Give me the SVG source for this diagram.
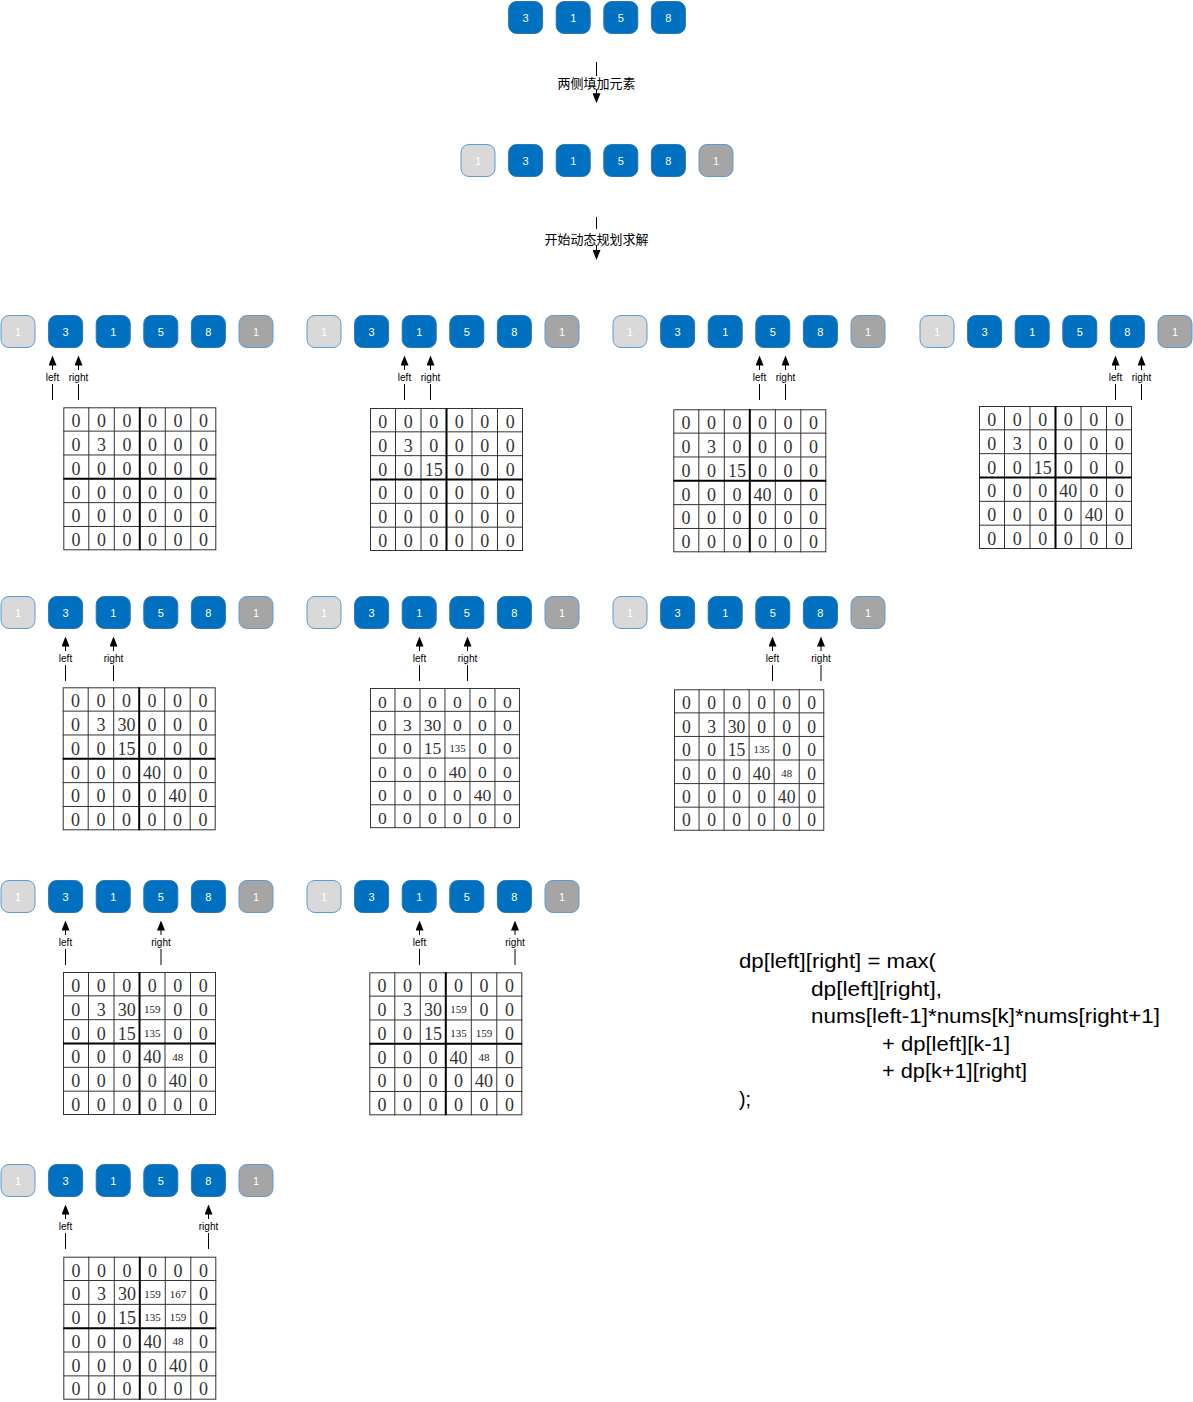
<svg xmlns="http://www.w3.org/2000/svg" xmlns:xlink="http://www.w3.org/1999/xlink" width="1193" height="1402" viewBox="0 0 1193 1402">
<style>
.nb{fill:#0070C0;stroke:#2E75B6;stroke-width:1}
.nl{fill:#D9D9D9;stroke:#5B9BD5;stroke-width:1}
.nd{fill:#A5A5A5;stroke:#5B9BD5;stroke-width:1}
.nt{font-family:"Liberation Sans",Arial,sans-serif;font-size:11px;fill:#fff;text-anchor:middle}
.ln{stroke:#000;stroke-width:1;fill:none}
.lb{font-family:"Liberation Sans",Arial,sans-serif;font-size:10px;fill:#000;text-anchor:middle}
.cj{font-family:"Noto Sans CJK SC","Liberation Sans",sans-serif;font-size:13px;fill:#000;text-anchor:middle}
.v{font-family:"Liberation Serif","Times New Roman",serif;font-size:18px;fill:#333;text-anchor:middle}
.s{font-size:11px;fill:#222}
.f{font-family:"Liberation Sans",Arial,sans-serif;font-size:20px;fill:#000}
</style>
<defs>
<marker id="ah" viewBox="0 0 10 8" refX="1" refY="4" markerWidth="10" markerHeight="8" markerUnits="userSpaceOnUse" orient="auto"><path d="M0,0 L10,4 L0,8 z" fill="#000"/></marker>
<g id="grid">
<rect x="0.5" y="0.5" width="152" height="142" fill="#fff" stroke="#333"/>
<path d="M25.5 0V143M51 0V143M102 0V143M127.5 0V143M0 23.83H153M0 47.67H153M0 95.33H153M0 119.17H153" stroke="#333" fill="none"/>
<path d="M76.5 0V143M0 71.5H153" stroke="#000" stroke-width="2" fill="none"/>
</g>
<g id="grid2">
<rect x="0.5" y="0.5" width="152" height="142" fill="#fff" stroke="#333"/>
<path d="M25.5 0V143M51 0V143M76.5 0V143M102 0V143M127.5 0V143M0 23.83H153M0 47.67H153M0 71.5H153M0 95.33H153M0 119.17H153" stroke="#333" fill="none"/>
</g>
</defs>
<rect width="1193" height="1402" fill="#fff"/>

<!-- top row -->
<g id="top" transform="translate(460,1)">
<g id="top-3"><rect class="nb" x="48.6" y="0.5" width="34" height="32" rx="8"/><text class="nt" x="65.6" y="20.5">3</text></g>
<g id="top-1"><rect class="nb" x="96.2" y="0.5" width="34" height="32" rx="8"/><text class="nt" x="113.2" y="20.5">1</text></g>
<g id="top-5"><rect class="nb" x="143.8" y="0.5" width="34" height="32" rx="8"/><text class="nt" x="160.8" y="20.5">5</text></g>
<g id="top-8"><rect class="nb" x="191.4" y="0.5" width="34" height="32" rx="8"/><text class="nt" x="208.4" y="20.5">8</text></g>
</g>
<g id="padded" transform="translate(460,144)">
<g id="pad-l"><rect class="nl" x="1" y="0.5" width="34" height="32" rx="8"/><text class="nt" x="18" y="20.5">1</text></g>
<g id="pad-3"><rect class="nb" x="48.6" y="0.5" width="34" height="32" rx="8"/><text class="nt" x="65.6" y="20.5">3</text></g>
<g id="pad-1"><rect class="nb" x="96.2" y="0.5" width="34" height="32" rx="8"/><text class="nt" x="113.2" y="20.5">1</text></g>
<g id="pad-5"><rect class="nb" x="143.8" y="0.5" width="34" height="32" rx="8"/><text class="nt" x="160.8" y="20.5">5</text></g>
<g id="pad-8"><rect class="nb" x="191.4" y="0.5" width="34" height="32" rx="8"/><text class="nt" x="208.4" y="20.5">8</text></g>
<g id="pad-r"><rect class="nd" x="239" y="0.5" width="34" height="32" rx="8"/><text class="nt" x="256" y="20.5">1</text></g>
</g>

<!-- panels: node rows -->
<g id="p1" transform="translate(0,315)">
<g id="p1-n0"><rect class="nl" x="1" y="0.5" width="34" height="32" rx="8"/><text class="nt" x="18" y="20.5">1</text></g>
<g id="p1-n1"><rect class="nb" x="48.6" y="0.5" width="34" height="32" rx="8"/><text class="nt" x="65.6" y="20.5">3</text></g>
<g id="p1-n2"><rect class="nb" x="96.2" y="0.5" width="34" height="32" rx="8"/><text class="nt" x="113.2" y="20.5">1</text></g>
<g id="p1-n3"><rect class="nb" x="143.8" y="0.5" width="34" height="32" rx="8"/><text class="nt" x="160.8" y="20.5">5</text></g>
<g id="p1-n4"><rect class="nb" x="191.4" y="0.5" width="34" height="32" rx="8"/><text class="nt" x="208.4" y="20.5">8</text></g>
<g id="p1-n5"><rect class="nd" x="239" y="0.5" width="34" height="32" rx="8"/><text class="nt" x="256" y="20.5">1</text></g>
</g>
<g id="p2" transform="translate(306,315)">
<g id="p2-n0"><rect class="nl" x="1" y="0.5" width="34" height="32" rx="8"/><text class="nt" x="18" y="20.5">1</text></g>
<g id="p2-n1"><rect class="nb" x="48.6" y="0.5" width="34" height="32" rx="8"/><text class="nt" x="65.6" y="20.5">3</text></g>
<g id="p2-n2"><rect class="nb" x="96.2" y="0.5" width="34" height="32" rx="8"/><text class="nt" x="113.2" y="20.5">1</text></g>
<g id="p2-n3"><rect class="nb" x="143.8" y="0.5" width="34" height="32" rx="8"/><text class="nt" x="160.8" y="20.5">5</text></g>
<g id="p2-n4"><rect class="nb" x="191.4" y="0.5" width="34" height="32" rx="8"/><text class="nt" x="208.4" y="20.5">8</text></g>
<g id="p2-n5"><rect class="nd" x="239" y="0.5" width="34" height="32" rx="8"/><text class="nt" x="256" y="20.5">1</text></g>
</g>
<g id="p3" transform="translate(612,315)">
<g id="p3-n0"><rect class="nl" x="1" y="0.5" width="34" height="32" rx="8"/><text class="nt" x="18" y="20.5">1</text></g>
<g id="p3-n1"><rect class="nb" x="48.6" y="0.5" width="34" height="32" rx="8"/><text class="nt" x="65.6" y="20.5">3</text></g>
<g id="p3-n2"><rect class="nb" x="96.2" y="0.5" width="34" height="32" rx="8"/><text class="nt" x="113.2" y="20.5">1</text></g>
<g id="p3-n3"><rect class="nb" x="143.8" y="0.5" width="34" height="32" rx="8"/><text class="nt" x="160.8" y="20.5">5</text></g>
<g id="p3-n4"><rect class="nb" x="191.4" y="0.5" width="34" height="32" rx="8"/><text class="nt" x="208.4" y="20.5">8</text></g>
<g id="p3-n5"><rect class="nd" x="239" y="0.5" width="34" height="32" rx="8"/><text class="nt" x="256" y="20.5">1</text></g>
</g>
<g id="p4" transform="translate(919,315)">
<g id="p4-n0"><rect class="nl" x="1" y="0.5" width="34" height="32" rx="8"/><text class="nt" x="18" y="20.5">1</text></g>
<g id="p4-n1"><rect class="nb" x="48.6" y="0.5" width="34" height="32" rx="8"/><text class="nt" x="65.6" y="20.5">3</text></g>
<g id="p4-n2"><rect class="nb" x="96.2" y="0.5" width="34" height="32" rx="8"/><text class="nt" x="113.2" y="20.5">1</text></g>
<g id="p4-n3"><rect class="nb" x="143.8" y="0.5" width="34" height="32" rx="8"/><text class="nt" x="160.8" y="20.5">5</text></g>
<g id="p4-n4"><rect class="nb" x="191.4" y="0.5" width="34" height="32" rx="8"/><text class="nt" x="208.4" y="20.5">8</text></g>
<g id="p4-n5"><rect class="nd" x="239" y="0.5" width="34" height="32" rx="8"/><text class="nt" x="256" y="20.5">1</text></g>
</g>
<g id="p5" transform="translate(0,596)">
<g id="p5-n0"><rect class="nl" x="1" y="0.5" width="34" height="32" rx="8"/><text class="nt" x="18" y="20.5">1</text></g>
<g id="p5-n1"><rect class="nb" x="48.6" y="0.5" width="34" height="32" rx="8"/><text class="nt" x="65.6" y="20.5">3</text></g>
<g id="p5-n2"><rect class="nb" x="96.2" y="0.5" width="34" height="32" rx="8"/><text class="nt" x="113.2" y="20.5">1</text></g>
<g id="p5-n3"><rect class="nb" x="143.8" y="0.5" width="34" height="32" rx="8"/><text class="nt" x="160.8" y="20.5">5</text></g>
<g id="p5-n4"><rect class="nb" x="191.4" y="0.5" width="34" height="32" rx="8"/><text class="nt" x="208.4" y="20.5">8</text></g>
<g id="p5-n5"><rect class="nd" x="239" y="0.5" width="34" height="32" rx="8"/><text class="nt" x="256" y="20.5">1</text></g>
</g>
<g id="p6" transform="translate(306,596)">
<g id="p6-n0"><rect class="nl" x="1" y="0.5" width="34" height="32" rx="8"/><text class="nt" x="18" y="20.5">1</text></g>
<g id="p6-n1"><rect class="nb" x="48.6" y="0.5" width="34" height="32" rx="8"/><text class="nt" x="65.6" y="20.5">3</text></g>
<g id="p6-n2"><rect class="nb" x="96.2" y="0.5" width="34" height="32" rx="8"/><text class="nt" x="113.2" y="20.5">1</text></g>
<g id="p6-n3"><rect class="nb" x="143.8" y="0.5" width="34" height="32" rx="8"/><text class="nt" x="160.8" y="20.5">5</text></g>
<g id="p6-n4"><rect class="nb" x="191.4" y="0.5" width="34" height="32" rx="8"/><text class="nt" x="208.4" y="20.5">8</text></g>
<g id="p6-n5"><rect class="nd" x="239" y="0.5" width="34" height="32" rx="8"/><text class="nt" x="256" y="20.5">1</text></g>
</g>
<g id="p7" transform="translate(612,596)">
<g id="p7-n0"><rect class="nl" x="1" y="0.5" width="34" height="32" rx="8"/><text class="nt" x="18" y="20.5">1</text></g>
<g id="p7-n1"><rect class="nb" x="48.6" y="0.5" width="34" height="32" rx="8"/><text class="nt" x="65.6" y="20.5">3</text></g>
<g id="p7-n2"><rect class="nb" x="96.2" y="0.5" width="34" height="32" rx="8"/><text class="nt" x="113.2" y="20.5">1</text></g>
<g id="p7-n3"><rect class="nb" x="143.8" y="0.5" width="34" height="32" rx="8"/><text class="nt" x="160.8" y="20.5">5</text></g>
<g id="p7-n4"><rect class="nb" x="191.4" y="0.5" width="34" height="32" rx="8"/><text class="nt" x="208.4" y="20.5">8</text></g>
<g id="p7-n5"><rect class="nd" x="239" y="0.5" width="34" height="32" rx="8"/><text class="nt" x="256" y="20.5">1</text></g>
</g>
<g id="p8" transform="translate(0,880)">
<g id="p8-n0"><rect class="nl" x="1" y="0.5" width="34" height="32" rx="8"/><text class="nt" x="18" y="20.5">1</text></g>
<g id="p8-n1"><rect class="nb" x="48.6" y="0.5" width="34" height="32" rx="8"/><text class="nt" x="65.6" y="20.5">3</text></g>
<g id="p8-n2"><rect class="nb" x="96.2" y="0.5" width="34" height="32" rx="8"/><text class="nt" x="113.2" y="20.5">1</text></g>
<g id="p8-n3"><rect class="nb" x="143.8" y="0.5" width="34" height="32" rx="8"/><text class="nt" x="160.8" y="20.5">5</text></g>
<g id="p8-n4"><rect class="nb" x="191.4" y="0.5" width="34" height="32" rx="8"/><text class="nt" x="208.4" y="20.5">8</text></g>
<g id="p8-n5"><rect class="nd" x="239" y="0.5" width="34" height="32" rx="8"/><text class="nt" x="256" y="20.5">1</text></g>
</g>
<g id="p9" transform="translate(306,880)">
<g id="p9-n0"><rect class="nl" x="1" y="0.5" width="34" height="32" rx="8"/><text class="nt" x="18" y="20.5">1</text></g>
<g id="p9-n1"><rect class="nb" x="48.6" y="0.5" width="34" height="32" rx="8"/><text class="nt" x="65.6" y="20.5">3</text></g>
<g id="p9-n2"><rect class="nb" x="96.2" y="0.5" width="34" height="32" rx="8"/><text class="nt" x="113.2" y="20.5">1</text></g>
<g id="p9-n3"><rect class="nb" x="143.8" y="0.5" width="34" height="32" rx="8"/><text class="nt" x="160.8" y="20.5">5</text></g>
<g id="p9-n4"><rect class="nb" x="191.4" y="0.5" width="34" height="32" rx="8"/><text class="nt" x="208.4" y="20.5">8</text></g>
<g id="p9-n5"><rect class="nd" x="239" y="0.5" width="34" height="32" rx="8"/><text class="nt" x="256" y="20.5">1</text></g>
</g>
<g id="p10" transform="translate(0,1164)">
<g id="p10-n0"><rect class="nl" x="1" y="0.5" width="34" height="32" rx="8"/><text class="nt" x="18" y="20.5">1</text></g>
<g id="p10-n1"><rect class="nb" x="48.6" y="0.5" width="34" height="32" rx="8"/><text class="nt" x="65.6" y="20.5">3</text></g>
<g id="p10-n2"><rect class="nb" x="96.2" y="0.5" width="34" height="32" rx="8"/><text class="nt" x="113.2" y="20.5">1</text></g>
<g id="p10-n3"><rect class="nb" x="143.8" y="0.5" width="34" height="32" rx="8"/><text class="nt" x="160.8" y="20.5">5</text></g>
<g id="p10-n4"><rect class="nb" x="191.4" y="0.5" width="34" height="32" rx="8"/><text class="nt" x="208.4" y="20.5">8</text></g>
<g id="p10-n5"><rect class="nd" x="239" y="0.5" width="34" height="32" rx="8"/><text class="nt" x="256" y="20.5">1</text></g>
</g>

<!-- dp tables -->
<g id="t1" transform="translate(63.3,407.3)">
<use href="#grid"/>
<text class="v" y="20"><tspan x="12.75">0</tspan><tspan x="38.25">0</tspan><tspan x="63.75">0</tspan><tspan x="89.25">0</tspan><tspan x="114.75">0</tspan><tspan x="140.25">0</tspan></text>
<text class="v" y="43.8"><tspan x="12.75">0</tspan><tspan x="38.25">3</tspan><tspan x="63.75">0</tspan><tspan x="89.25">0</tspan><tspan x="114.75">0</tspan><tspan x="140.25">0</tspan></text>
<text class="v" y="67.6"><tspan x="12.75">0</tspan><tspan x="38.25">0</tspan><tspan x="63.75">0</tspan><tspan x="89.25">0</tspan><tspan x="114.75">0</tspan><tspan x="140.25">0</tspan></text>
<text class="v" y="91.4"><tspan x="12.75">0</tspan><tspan x="38.25">0</tspan><tspan x="63.75">0</tspan><tspan x="89.25">0</tspan><tspan x="114.75">0</tspan><tspan x="140.25">0</tspan></text>
<text class="v" y="115.2"><tspan x="12.75">0</tspan><tspan x="38.25">0</tspan><tspan x="63.75">0</tspan><tspan x="89.25">0</tspan><tspan x="114.75">0</tspan><tspan x="140.25">0</tspan></text>
<text class="v" y="138.5"><tspan x="12.75">0</tspan><tspan x="38.25">0</tspan><tspan x="63.75">0</tspan><tspan x="89.25">0</tspan><tspan x="114.75">0</tspan><tspan x="140.25">0</tspan></text>
</g>
<g id="t2" transform="translate(370,408)">
<use href="#grid"/>
<text class="v" y="20"><tspan x="12.75">0</tspan><tspan x="38.25">0</tspan><tspan x="63.75">0</tspan><tspan x="89.25">0</tspan><tspan x="114.75">0</tspan><tspan x="140.25">0</tspan></text>
<text class="v" y="43.8"><tspan x="12.75">0</tspan><tspan x="38.25">3</tspan><tspan x="63.75">0</tspan><tspan x="89.25">0</tspan><tspan x="114.75">0</tspan><tspan x="140.25">0</tspan></text>
<text class="v" y="67.6"><tspan x="12.75">0</tspan><tspan x="38.25">0</tspan><tspan x="63.75">15</tspan><tspan x="89.25">0</tspan><tspan x="114.75">0</tspan><tspan x="140.25">0</tspan></text>
<text class="v" y="91.4"><tspan x="12.75">0</tspan><tspan x="38.25">0</tspan><tspan x="63.75">0</tspan><tspan x="89.25">0</tspan><tspan x="114.75">0</tspan><tspan x="140.25">0</tspan></text>
<text class="v" y="115.2"><tspan x="12.75">0</tspan><tspan x="38.25">0</tspan><tspan x="63.75">0</tspan><tspan x="89.25">0</tspan><tspan x="114.75">0</tspan><tspan x="140.25">0</tspan></text>
<text class="v" y="138.5"><tspan x="12.75">0</tspan><tspan x="38.25">0</tspan><tspan x="63.75">0</tspan><tspan x="89.25">0</tspan><tspan x="114.75">0</tspan><tspan x="140.25">0</tspan></text>
</g>
<g id="t3" transform="translate(673.3,409.3)">
<use href="#grid"/>
<text class="v" y="20"><tspan x="12.75">0</tspan><tspan x="38.25">0</tspan><tspan x="63.75">0</tspan><tspan x="89.25">0</tspan><tspan x="114.75">0</tspan><tspan x="140.25">0</tspan></text>
<text class="v" y="43.8"><tspan x="12.75">0</tspan><tspan x="38.25">3</tspan><tspan x="63.75">0</tspan><tspan x="89.25">0</tspan><tspan x="114.75">0</tspan><tspan x="140.25">0</tspan></text>
<text class="v" y="67.6"><tspan x="12.75">0</tspan><tspan x="38.25">0</tspan><tspan x="63.75">15</tspan><tspan x="89.25">0</tspan><tspan x="114.75">0</tspan><tspan x="140.25">0</tspan></text>
<text class="v" y="91.4"><tspan x="12.75">0</tspan><tspan x="38.25">0</tspan><tspan x="63.75">0</tspan><tspan x="89.25">40</tspan><tspan x="114.75">0</tspan><tspan x="140.25">0</tspan></text>
<text class="v" y="115.2"><tspan x="12.75">0</tspan><tspan x="38.25">0</tspan><tspan x="63.75">0</tspan><tspan x="89.25">0</tspan><tspan x="114.75">0</tspan><tspan x="140.25">0</tspan></text>
<text class="v" y="138.5"><tspan x="12.75">0</tspan><tspan x="38.25">0</tspan><tspan x="63.75">0</tspan><tspan x="89.25">0</tspan><tspan x="114.75">0</tspan><tspan x="140.25">0</tspan></text>
</g>
<g id="t4" transform="translate(979,406)">
<use href="#grid"/>
<text class="v" y="20"><tspan x="12.75">0</tspan><tspan x="38.25">0</tspan><tspan x="63.75">0</tspan><tspan x="89.25">0</tspan><tspan x="114.75">0</tspan><tspan x="140.25">0</tspan></text>
<text class="v" y="43.8"><tspan x="12.75">0</tspan><tspan x="38.25">3</tspan><tspan x="63.75">0</tspan><tspan x="89.25">0</tspan><tspan x="114.75">0</tspan><tspan x="140.25">0</tspan></text>
<text class="v" y="67.6"><tspan x="12.75">0</tspan><tspan x="38.25">0</tspan><tspan x="63.75">15</tspan><tspan x="89.25">0</tspan><tspan x="114.75">0</tspan><tspan x="140.25">0</tspan></text>
<text class="v" y="91.4"><tspan x="12.75">0</tspan><tspan x="38.25">0</tspan><tspan x="63.75">0</tspan><tspan x="89.25">40</tspan><tspan x="114.75">0</tspan><tspan x="140.25">0</tspan></text>
<text class="v" y="115.2"><tspan x="12.75">0</tspan><tspan x="38.25">0</tspan><tspan x="63.75">0</tspan><tspan x="89.25">0</tspan><tspan x="114.75">40</tspan><tspan x="140.25">0</tspan></text>
<text class="v" y="138.5"><tspan x="12.75">0</tspan><tspan x="38.25">0</tspan><tspan x="63.75">0</tspan><tspan x="89.25">0</tspan><tspan x="114.75">0</tspan><tspan x="140.25">0</tspan></text>
</g>
<g id="t5" transform="translate(62.7,687.3)">
<use href="#grid"/>
<text class="v" y="20"><tspan x="12.75">0</tspan><tspan x="38.25">0</tspan><tspan x="63.75">0</tspan><tspan x="89.25">0</tspan><tspan x="114.75">0</tspan><tspan x="140.25">0</tspan></text>
<text class="v" y="43.8"><tspan x="12.75">0</tspan><tspan x="38.25">3</tspan><tspan x="63.75">30</tspan><tspan x="89.25">0</tspan><tspan x="114.75">0</tspan><tspan x="140.25">0</tspan></text>
<text class="v" y="67.6"><tspan x="12.75">0</tspan><tspan x="38.25">0</tspan><tspan x="63.75">15</tspan><tspan x="89.25">0</tspan><tspan x="114.75">0</tspan><tspan x="140.25">0</tspan></text>
<text class="v" y="91.4"><tspan x="12.75">0</tspan><tspan x="38.25">0</tspan><tspan x="63.75">0</tspan><tspan x="89.25">40</tspan><tspan x="114.75">0</tspan><tspan x="140.25">0</tspan></text>
<text class="v" y="115.2"><tspan x="12.75">0</tspan><tspan x="38.25">0</tspan><tspan x="63.75">0</tspan><tspan x="89.25">0</tspan><tspan x="114.75">40</tspan><tspan x="140.25">0</tspan></text>
<text class="v" y="138.5"><tspan x="12.75">0</tspan><tspan x="38.25">0</tspan><tspan x="63.75">0</tspan><tspan x="89.25">0</tspan><tspan x="114.75">0</tspan><tspan x="140.25">0</tspan></text>
</g>
<g id="t6" transform="translate(370,688) scale(0.98,0.98)">
<use href="#grid2"/>
<text class="v" y="20"><tspan x="12.75">0</tspan><tspan x="38.25">0</tspan><tspan x="63.75">0</tspan><tspan x="89.25">0</tspan><tspan x="114.75">0</tspan><tspan x="140.25">0</tspan></text>
<text class="v" y="43.8"><tspan x="12.75">0</tspan><tspan x="38.25">3</tspan><tspan x="63.75">30</tspan><tspan x="89.25">0</tspan><tspan x="114.75">0</tspan><tspan x="140.25">0</tspan></text>
<text class="v" y="67.6"><tspan x="12.75">0</tspan><tspan x="38.25">0</tspan><tspan x="63.75">15</tspan><tspan class="s" x="89.25" y="64.8">135</tspan><tspan x="114.75" y="67.6">0</tspan><tspan x="140.25">0</tspan></text>
<text class="v" y="91.4"><tspan x="12.75">0</tspan><tspan x="38.25">0</tspan><tspan x="63.75">0</tspan><tspan x="89.25">40</tspan><tspan x="114.75">0</tspan><tspan x="140.25">0</tspan></text>
<text class="v" y="115.2"><tspan x="12.75">0</tspan><tspan x="38.25">0</tspan><tspan x="63.75">0</tspan><tspan x="89.25">0</tspan><tspan x="114.75">40</tspan><tspan x="140.25">0</tspan></text>
<text class="v" y="138.5"><tspan x="12.75">0</tspan><tspan x="38.25">0</tspan><tspan x="63.75">0</tspan><tspan x="89.25">0</tspan><tspan x="114.75">0</tspan><tspan x="140.25">0</tspan></text>
</g>
<g id="t7" transform="translate(674,689.3) scale(0.982,0.989)">
<use href="#grid2"/>
<text class="v" y="20"><tspan x="12.75">0</tspan><tspan x="38.25">0</tspan><tspan x="63.75">0</tspan><tspan x="89.25">0</tspan><tspan x="114.75">0</tspan><tspan x="140.25">0</tspan></text>
<text class="v" y="43.8"><tspan x="12.75">0</tspan><tspan x="38.25">3</tspan><tspan x="63.75">30</tspan><tspan x="89.25">0</tspan><tspan x="114.75">0</tspan><tspan x="140.25">0</tspan></text>
<text class="v" y="67.6"><tspan x="12.75">0</tspan><tspan x="38.25">0</tspan><tspan x="63.75">15</tspan><tspan class="s" x="89.25" y="64.8">135</tspan><tspan x="114.75" y="67.6">0</tspan><tspan x="140.25">0</tspan></text>
<text class="v" y="91.4"><tspan x="12.75">0</tspan><tspan x="38.25">0</tspan><tspan x="63.75">0</tspan><tspan x="89.25">40</tspan><tspan class="s" x="114.75" y="88.6">48</tspan><tspan x="140.25" y="91.4">0</tspan></text>
<text class="v" y="115.2"><tspan x="12.75">0</tspan><tspan x="38.25">0</tspan><tspan x="63.75">0</tspan><tspan x="89.25">0</tspan><tspan x="114.75">40</tspan><tspan x="140.25">0</tspan></text>
<text class="v" y="138.5"><tspan x="12.75">0</tspan><tspan x="38.25">0</tspan><tspan x="63.75">0</tspan><tspan x="89.25">0</tspan><tspan x="114.75">0</tspan><tspan x="140.25">0</tspan></text>
</g>
<g id="t8" transform="translate(63,972)">
<use href="#grid"/>
<text class="v" y="20"><tspan x="12.75">0</tspan><tspan x="38.25">0</tspan><tspan x="63.75">0</tspan><tspan x="89.25">0</tspan><tspan x="114.75">0</tspan><tspan x="140.25">0</tspan></text>
<text class="v" y="43.8"><tspan x="12.75">0</tspan><tspan x="38.25">3</tspan><tspan x="63.75">30</tspan><tspan class="s" x="89.25" y="41">159</tspan><tspan x="114.75" y="43.8">0</tspan><tspan x="140.25">0</tspan></text>
<text class="v" y="67.6"><tspan x="12.75">0</tspan><tspan x="38.25">0</tspan><tspan x="63.75">15</tspan><tspan class="s" x="89.25" y="64.8">135</tspan><tspan x="114.75" y="67.6">0</tspan><tspan x="140.25">0</tspan></text>
<text class="v" y="91.4"><tspan x="12.75">0</tspan><tspan x="38.25">0</tspan><tspan x="63.75">0</tspan><tspan x="89.25">40</tspan><tspan class="s" x="114.75" y="88.6">48</tspan><tspan x="140.25" y="91.4">0</tspan></text>
<text class="v" y="115.2"><tspan x="12.75">0</tspan><tspan x="38.25">0</tspan><tspan x="63.75">0</tspan><tspan x="89.25">0</tspan><tspan x="114.75">40</tspan><tspan x="140.25">0</tspan></text>
<text class="v" y="138.5"><tspan x="12.75">0</tspan><tspan x="38.25">0</tspan><tspan x="63.75">0</tspan><tspan x="89.25">0</tspan><tspan x="114.75">0</tspan><tspan x="140.25">0</tspan></text>
</g>
<g id="t9" transform="translate(369.3,972.3)">
<use href="#grid"/>
<text class="v" y="20"><tspan x="12.75">0</tspan><tspan x="38.25">0</tspan><tspan x="63.75">0</tspan><tspan x="89.25">0</tspan><tspan x="114.75">0</tspan><tspan x="140.25">0</tspan></text>
<text class="v" y="43.8"><tspan x="12.75">0</tspan><tspan x="38.25">3</tspan><tspan x="63.75">30</tspan><tspan class="s" x="89.25" y="41">159</tspan><tspan x="114.75" y="43.8">0</tspan><tspan x="140.25">0</tspan></text>
<text class="v" y="67.6"><tspan x="12.75">0</tspan><tspan x="38.25">0</tspan><tspan x="63.75">15</tspan><tspan class="s" x="89.25" y="64.8">135</tspan><tspan class="s" x="114.75" y="64.8">159</tspan><tspan x="140.25" y="67.6">0</tspan></text>
<text class="v" y="91.4"><tspan x="12.75">0</tspan><tspan x="38.25">0</tspan><tspan x="63.75">0</tspan><tspan x="89.25">40</tspan><tspan class="s" x="114.75" y="88.6">48</tspan><tspan x="140.25" y="91.4">0</tspan></text>
<text class="v" y="115.2"><tspan x="12.75">0</tspan><tspan x="38.25">0</tspan><tspan x="63.75">0</tspan><tspan x="89.25">0</tspan><tspan x="114.75">40</tspan><tspan x="140.25">0</tspan></text>
<text class="v" y="138.5"><tspan x="12.75">0</tspan><tspan x="38.25">0</tspan><tspan x="63.75">0</tspan><tspan x="89.25">0</tspan><tspan x="114.75">0</tspan><tspan x="140.25">0</tspan></text>
</g>
<g id="t10" transform="translate(63.3,1256.7)">
<use href="#grid"/>
<text class="v" y="20"><tspan x="12.75">0</tspan><tspan x="38.25">0</tspan><tspan x="63.75">0</tspan><tspan x="89.25">0</tspan><tspan x="114.75">0</tspan><tspan x="140.25">0</tspan></text>
<text class="v" y="43.8"><tspan x="12.75">0</tspan><tspan x="38.25">3</tspan><tspan x="63.75">30</tspan><tspan class="s" x="89.25" y="41">159</tspan><tspan class="s" x="114.75" y="41">167</tspan><tspan x="140.25" y="43.8">0</tspan></text>
<text class="v" y="67.6"><tspan x="12.75">0</tspan><tspan x="38.25">0</tspan><tspan x="63.75">15</tspan><tspan class="s" x="89.25" y="64.8">135</tspan><tspan class="s" x="114.75" y="64.8">159</tspan><tspan x="140.25" y="67.6">0</tspan></text>
<text class="v" y="91.4"><tspan x="12.75">0</tspan><tspan x="38.25">0</tspan><tspan x="63.75">0</tspan><tspan x="89.25">40</tspan><tspan class="s" x="114.75" y="88.6">48</tspan><tspan x="140.25" y="91.4">0</tspan></text>
<text class="v" y="115.2"><tspan x="12.75">0</tspan><tspan x="38.25">0</tspan><tspan x="63.75">0</tspan><tspan x="89.25">0</tspan><tspan x="114.75">40</tspan><tspan x="140.25">0</tspan></text>
<text class="v" y="138.5"><tspan x="12.75">0</tspan><tspan x="38.25">0</tspan><tspan x="63.75">0</tspan><tspan x="89.25">0</tspan><tspan x="114.75">0</tspan><tspan x="140.25">0</tspan></text>
</g>

<!-- connectors -->
<g id="connectors">
<path class="ln" d="M596.5 62V76"/>
<text class="cj" x="596.5" y="87.5">两侧填加元素</text>
<path class="ln" d="M596.5 89V94.3" marker-end="url(#ah)"/>
<path class="ln" d="M596.5 217V229"/>
<text class="cj" x="596.5" y="243.5">开始动态规划求解</text>
<path class="ln" d="M596.5 245V251" marker-end="url(#ah)"/>

<!-- row 1 (Y=315) -->
<path class="ln" d="M52.5 370V364.5" marker-end="url(#ah)"/><path class="ln" d="M52.5 384V400"/><text class="lb" x="52.5" y="380.5">left</text>
<path class="ln" d="M78.5 370V364.5" marker-end="url(#ah)"/><path class="ln" d="M78.5 384V400"/><text class="lb" x="78.5" y="380.5">right</text>
<path class="ln" d="M404.5 370V364.5" marker-end="url(#ah)"/><path class="ln" d="M404.5 384V400"/><text class="lb" x="404.5" y="380.5">left</text>
<path class="ln" d="M430.5 370V364.5" marker-end="url(#ah)"/><path class="ln" d="M430.5 384V400"/><text class="lb" x="430.5" y="380.5">right</text>
<path class="ln" d="M759.5 370V364.5" marker-end="url(#ah)"/><path class="ln" d="M759.5 384V400"/><text class="lb" x="759.5" y="380.5">left</text>
<path class="ln" d="M785.5 370V364.5" marker-end="url(#ah)"/><path class="ln" d="M785.5 384V400"/><text class="lb" x="785.5" y="380.5">right</text>
<path class="ln" d="M1115.5 370V364.5" marker-end="url(#ah)"/><path class="ln" d="M1115.5 384V400"/><text class="lb" x="1115.5" y="380.5">left</text>
<path class="ln" d="M1141.5 370V364.5" marker-end="url(#ah)"/><path class="ln" d="M1141.5 384V400"/><text class="lb" x="1141.5" y="380.5">right</text>

<!-- row 2 (Y=596) -->
<path class="ln" d="M65.5 651V645.5" marker-end="url(#ah)"/><path class="ln" d="M65.5 665V681"/><text class="lb" x="65.5" y="661.5">left</text>
<path class="ln" d="M113.5 651V645.5" marker-end="url(#ah)"/><path class="ln" d="M113.5 665V681"/><text class="lb" x="113.5" y="661.5">right</text>
<path class="ln" d="M419.5 651V645.5" marker-end="url(#ah)"/><path class="ln" d="M419.5 665V681"/><text class="lb" x="419.5" y="661.5">left</text>
<path class="ln" d="M467.5 651V645.5" marker-end="url(#ah)"/><path class="ln" d="M467.5 665V681"/><text class="lb" x="467.5" y="661.5">right</text>
<path class="ln" d="M772.5 651V645.5" marker-end="url(#ah)"/><path class="ln" d="M772.5 665V681"/><text class="lb" x="772.5" y="661.5">left</text>
<path class="ln" d="M821 651V645.5" marker-end="url(#ah)"/><path class="ln" d="M821 665V681"/><text class="lb" x="821" y="661.5">right</text>

<!-- row 3 (Y=880) -->
<path class="ln" d="M65.5 935V929.5" marker-end="url(#ah)"/><path class="ln" d="M65.5 949V965"/><text class="lb" x="65.5" y="945.5">left</text>
<path class="ln" d="M161 935V929.5" marker-end="url(#ah)"/><path class="ln" d="M161 949V965"/><text class="lb" x="161" y="945.5">right</text>
<path class="ln" d="M419.5 935V929.5" marker-end="url(#ah)"/><path class="ln" d="M419.5 949V965"/><text class="lb" x="419.5" y="945.5">left</text>
<path class="ln" d="M515 935V929.5" marker-end="url(#ah)"/><path class="ln" d="M515 949V965"/><text class="lb" x="515" y="945.5">right</text>

<!-- row 4 (Y=1164) -->
<path class="ln" d="M65.5 1219V1213.5" marker-end="url(#ah)"/><path class="ln" d="M65.5 1233V1249"/><text class="lb" x="65.5" y="1229.5">left</text>
<path class="ln" d="M208.5 1219V1213.5" marker-end="url(#ah)"/><path class="ln" d="M208.5 1233V1249"/><text class="lb" x="208.5" y="1229.5">right</text>
</g>

<!-- formula -->
<g id="formula">
<text class="f" x="739" y="968" textLength="197" lengthAdjust="spacingAndGlyphs">dp[left][right] = max(</text>
<text class="f" x="811" y="996" textLength="131" lengthAdjust="spacingAndGlyphs">dp[left][right],</text>
<text class="f" x="811" y="1023" textLength="349" lengthAdjust="spacingAndGlyphs">nums[left-1]*nums[k]*nums[right+1]</text>
<text class="f" x="882" y="1051" textLength="128" lengthAdjust="spacingAndGlyphs">+ dp[left][k-1]</text>
<text class="f" x="882" y="1078" textLength="145" lengthAdjust="spacingAndGlyphs">+ dp[k+1][right]</text>
<text class="f" x="739" y="1106" textLength="12" lengthAdjust="spacingAndGlyphs">);</text>
</g>
</svg>
